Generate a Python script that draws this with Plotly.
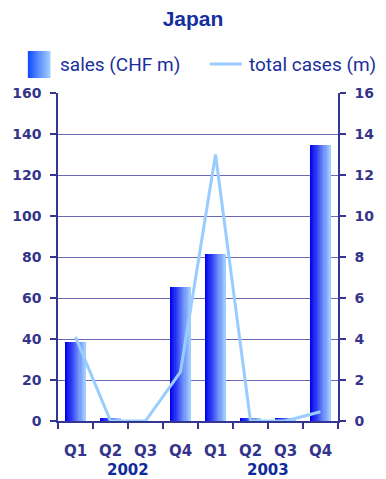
import plotly.graph_objects as go

# Quarterly figures for Japan
quarters = ["Q1", "Q2", "Q3", "Q4", "Q1", "Q2", "Q3", "Q4"]
years = ["2002", "2003"]
sales_chf_m = [38.5, 1.5, 0.0, 65.5, 81.5, 1.5, 1.3, 134.6]
total_cases_m = [4.1, 0.0, 0.0, 2.4, 13.0, 0.0, 0.0, 0.45]

x_pos = list(range(len(quarters)))

W, H = 386, 479
ML, MR, MT, MB = 53, 36, 93, 58
PW, PH = W - ML - MR, H - MT - MB

AXIS = "#343491"
GRID = "#6a6ab4"
TICKFONT = dict(family="DejaVu Sans", size=14, color="#34348a")
TEXT_BLUE = "#1b2f9c"

dark = (0, 0, 238)
light = (158, 204, 255)


def mix(t):
    return "rgb({},{},{})".format(*[round(a + (b - a) * t) for a, b in zip(dark, light)])


fig = go.Figure()

# gradient bars built from narrow vertical slices
bar_w = 0.57
n_slices = 18
sw = bar_w / n_slices
for i in range(n_slices):
    t = i / (n_slices - 1)
    fig.add_trace(go.Bar(
        x=x_pos, y=sales_chf_m,
        width=[sw * 1.3 if i < n_slices - 1 else sw] * len(x_pos),
        offset=-bar_w / 2 + i * sw,
        marker=dict(color=mix(t), line=dict(width=0)),
        showlegend=False, hoverinfo="skip",
    ))

fig.add_trace(go.Scatter(
    x=x_pos, y=total_cases_m, yaxis="y2", mode="lines",
    line=dict(color="#99ccff", width=3),
    showlegend=False,
))


def px_x(p):
    return (p - ML) / PW


def px_y(p):
    return (H - MB - p) / PH


shapes = []
# legend swatch with gradient
sw_l, sw_r, sw_t, sw_b = 21, 45, 51, 78
n_sw = 12
for i in range(n_sw):
    x0 = sw_l + (sw_r - sw_l) * i / n_sw
    x1 = sw_l + (sw_r - sw_l) * (i + 1) / n_sw + 0.6
    c = "rgb({},{},{})".format(*[round(a + (b - a) * i / (n_sw - 1)) for a, b in zip((20, 80, 255), light)])
    shapes.append(dict(type="rect", xref="paper", yref="paper",
                       x0=px_x(x0), x1=px_x(min(x1, sw_r)), y0=px_y(sw_b), y1=px_y(sw_t),
                       fillcolor=c, line=dict(width=0), layer="above"))
shapes.append(dict(type="line", xref="paper", yref="paper",
                   x0=px_x(214), x1=px_x(248), y0=px_y(64), y1=px_y(64),
                   line=dict(color="#99ccff", width=3)))

annotations = [
    dict(text="sales (CHF m)", xref="paper", yref="paper", x=px_x(53), y=px_y(65),
         xanchor="left", yanchor="middle", showarrow=False,
         font=dict(family="Roboto", size=19, color=TEXT_BLUE)),
    dict(text="total cases (m)", xref="paper", yref="paper", x=px_x(254), y=px_y(65),
         xanchor="left", yanchor="middle", showarrow=False,
         font=dict(family="Roboto", size=19, color=TEXT_BLUE)),
]
for k, yr in enumerate(years):
    annotations.append(dict(text="<b>" + yr + "</b>", xref="x", yref="paper", x=1.5 + 4 * k, y=px_y(470),
                            xanchor="center", yanchor="middle", showarrow=False,
                            font=dict(family="DejaVu Sans", size=15, color="#0f2a9c")))

fig.update_layout(
    width=W, height=H,
    margin=dict(l=ML, r=MR, t=MT, b=MB),
    paper_bgcolor="white", plot_bgcolor="white",
    barmode="overlay", bargap=0,
    title=dict(text="<b>Japan</b>", x=0.5, xanchor="center", y=1 - 19 / H, yanchor="middle",
               font=dict(family="Liberation Sans", size=21, color="#1430a0")),
    xaxis=dict(
        range=[-0.5, 7.5], tickmode="array", tickvals=x_pos,
        ticktext=["<b>" + q + "</b>" for q in quarters],
        ticks="", tickfont=dict(TICKFONT, size=15), ticklabelstandoff=15,
        showgrid=False, zeroline=False,
        showline=True, linecolor=AXIS, linewidth=1.5,
        minor=dict(tickmode="array", tickvals=[v - 0.5 for v in range(len(quarters) + 1)],
                   ticks="outside", ticklen=6, tickcolor=AXIS, tickwidth=1.5, showgrid=False),
        fixedrange=True,
    ),
    yaxis=dict(
        range=[0, 160], tickmode="array", tickvals=list(range(0, 161, 20)),
        ticktext=["<b>%d</b>" % v for v in range(0, 161, 20)],
        ticks="outside", ticklen=6, tickcolor=AXIS, tickwidth=1.5,
        tickfont=TICKFONT, ticklabelstandoff=6,
        showgrid=True, gridcolor=GRID, gridwidth=1.4, zeroline=False,
        showline=True, linecolor=AXIS, linewidth=1.5,
    ),
    yaxis2=dict(
        range=[0, 16], overlaying="y", side="right",
        tickmode="array", tickvals=list(range(0, 17, 2)),
        ticktext=["<b>%d</b>" % v for v in range(0, 17, 2)],
        ticks="outside", ticklen=6, tickcolor=AXIS, tickwidth=1.5,
        tickfont=TICKFONT, ticklabelstandoff=6,
        showgrid=False, zeroline=False,
        showline=True, linecolor=AXIS, linewidth=1.5,
    ),
    shapes=shapes,
    annotations=annotations,
    showlegend=False,
)

fig.write_html("out.html", config={"displayModeBar": False})
